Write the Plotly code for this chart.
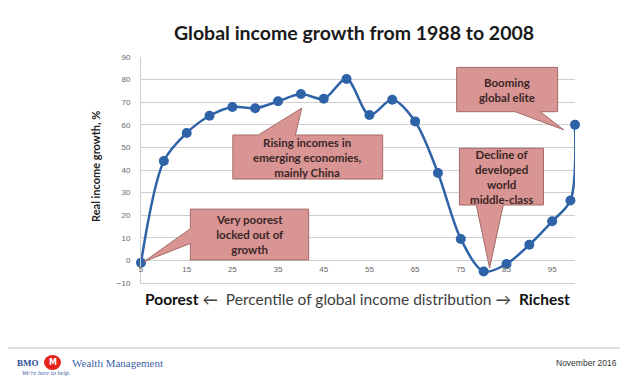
import plotly.graph_objects as go

# ---------------- data ----------------
percentiles = [5, 10, 15, 20, 25, 30, 35, 40, 45, 50, 55, 60, 65, 70, 75, 80, 85, 90, 95, 99, 100]
growth = [-1, 44, 56.4, 64, 67.9, 67.3, 70.4, 73.6, 71.5, 80.3, 64.3, 71.1, 61.5, 38.7, 9.5, -4.9, -1.6, 6.9, 17.3, 26.5, 60]
x_tick_vals = [5, 15, 25, 35, 45, 55, 65, 75, 85, 95]
y_tick_vals = [-10, 0, 10, 20, 30, 40, 50, 60, 70, 80, 90]

title_text = "Global income growth from 1988 to 2008"
y_title = "Real income growth, %"
callout_texts = [
    "Very poorest<br>locked out of<br>growth",
    "Rising incomes in<br>emerging economies,<br>mainly China",
    "Decline of<br>developed<br>world<br>middle-class",
    "Booming<br>global elite",
]

# ---------------- layout geometry ----------------
# the page body adds an 8px offset; work in window pixels and convert
OFF = 8
W, H = 628, 383
L, T = 141 - OFF, 57 - OFF
R, B = W - (575 - OFF), H - (283 - OFF)
PW, PH = W - L - R, H - T - B


def px(x):
    return (x - OFF - L) / PW


def py(y):
    return (H - B - (y - OFF)) / PH


LINE_BLUE = "#2e63a8"
GRID = "#cfcfcf"
FILL = "#d99594"
EDGE = "#a46a69"
FONT = "Lato"

fig = go.Figure()
fig.add_trace(go.Scatter(
    x=percentiles, y=growth, mode="lines+markers",
    line=dict(color=LINE_BLUE, width=2.5, shape="spline", smoothing=0.9),
    marker=dict(color=LINE_BLUE, size=10),
    cliponaxis=False, showlegend=False, hoverinfo="x+y",
))


# callouts: box (x0, x1, y0, y1), wedge base, tip — in data units
def callout(x0, x1, y0, y1, side, b1, b2, tip):
    tx, ty = tip
    if side == "bottom":
        pts = [(x0, y1), (x1, y1), (x1, y0), (b2, y0), (tx, ty), (b1, y0), (x0, y0)]
    elif side == "top":
        pts = [(x0, y1), (b1, y1), (tx, ty), (b2, y1), (x1, y1), (x1, y0), (x0, y0)]
    else:  # left
        pts = [(x0, y1), (x1, y1), (x1, y0), (x0, y0), (x0, b2), (tx, ty), (x0, b1)]
    return "M " + " L ".join(f"{a},{b}" for a, b in pts) + " Z"


boxes = [
    (15.8, 41.7, 0.2, 22.7, "left", 14.0, 7.5, (5.6, -0.6)),
    (25.1, 57.9, 36.0, 55.5, "top", 30.7, 38.8, (40.2, 67.4)),
    (74.7, 93.1, 24.5, 49.6, "bottom", 78.4, 84.3, (81.3, -3.4)),
    (74.1, 96.2, 65.8, 85.4, "bottom", 86.9, 92.4, (97.5, 57.8)),
]
for (x0, x1, y0, y1, side, b1, b2, tip), txt in zip(boxes, callout_texts):
    fig.add_shape(type="path", path=callout(x0, x1, y0, y1, side, b1, b2, tip),
                  xref="x", yref="y", fillcolor=FILL, line=dict(color=EDGE, width=1),
                  layer="above")
    fig.add_annotation(x=(x0 + x1) / 2, y=(y0 + y1) / 2, xref="x", yref="y", text=txt,
                       showarrow=False, align="center", xanchor="center", yanchor="middle",
                       font=dict(family=FONT, size=11.5, color="#3a2626", weight="bold"))

# x axis title with arrows
NB = "\u00a0"
fig.add_annotation(
    x=px(357.5), y=py(299), xref="paper", yref="paper", showarrow=False,
    text=f"<b>Poorest</b> <span style='color:#404040'>\u2190{NB}{NB}Percentile of global income distribution \u2192</span>{NB}{NB}<b>Richest</b>",
    font=dict(family=FONT, size=15.5, color="#111111"), xanchor="center", yanchor="middle")

# y axis title
fig.add_annotation(
    x=px(95), y=py(167), xref="paper", yref="paper", showarrow=False, textangle=-90,
    text=y_title, font=dict(family=FONT, size=11, color="#222222", weight="bold"),
    xanchor="center", yanchor="middle")


# ---------- slide decorations ----------
def note(xc, yc, text, family, size, color):
    fig.add_annotation(x=px(xc), y=py(yc), xref="paper", yref="paper", showarrow=False,
                       xanchor="center", yanchor="middle", text=text,
                       font=dict(family=family, size=size, color=color))


fig.add_shape(type="line", xref="paper", yref="paper", x0=px(3), x1=px(625), y0=py(348), y1=py(348),
              line=dict(color="#d4d4d4", width=1.5))
fig.add_shape(type="circle", xref="paper", yref="paper", x0=px(44), x1=px(61), y0=py(355), y1=py(370),
              fillcolor="#e3241b", line=dict(width=0))
note(52.5, 362.5, "<b>M</b>", "DejaVu Sans", 8, "white")
note(27.5, 362.7, "<b>BMO</b>", "Liberation Serif", 9, "#2a4a94")
note(117, 362.7, "Wealth Management", "Liberation Serif", 11, "#4260a8")
note(46, 372.7, "<i>We're here to help.</i>", "Liberation Serif", 6.5, "#4260a8")
note(586, 362.7, "November 2016", "Liberation Sans", 8.5, "#333333")

fig.update_layout(
    width=W, height=H, margin=dict(l=L, r=R, t=T, b=B),
    paper_bgcolor="white", plot_bgcolor="white",
    title=dict(text=f"<b>{title_text}</b>", x=(354 - OFF) / W, xanchor="center",
               y=1 - (33 - OFF) / H, yanchor="middle", yref="container",
               font=dict(family=FONT, size=19.5, color="#1a1a1a")),
    xaxis=dict(range=[5, 100], showgrid=False, zeroline=False, showticklabels=False,
               showline=True, linecolor=GRID, linewidth=1, ticks=""),
    xaxis2=dict(range=[5, 100], overlaying="x", anchor="free", position=0.1, side="bottom",
                tickmode="array", tickvals=x_tick_vals, showgrid=False, zeroline=False,
                showline=False, ticks="", ticklabelstandoff=3,
                tickfont=dict(family="Liberation Sans", size=8, color="#666666")),
    yaxis=dict(range=[-10, 90], tickmode="array", tickvals=y_tick_vals, showgrid=True,
               gridcolor=GRID, gridwidth=1, zeroline=False, showline=True, linecolor=GRID,
               linewidth=1, ticks="", ticklabelstandoff=8,
               tickfont=dict(family="Liberation Sans", size=8, color="#666666")),
    showlegend=False,
)
# invisible trace so the overlaid label axis renders
fig.add_trace(go.Scatter(x=[5, 100], y=[None, None], xaxis="x2", yaxis="y",
                         mode="markers", showlegend=False, hoverinfo="skip"))

fig.write_html("out.html")
